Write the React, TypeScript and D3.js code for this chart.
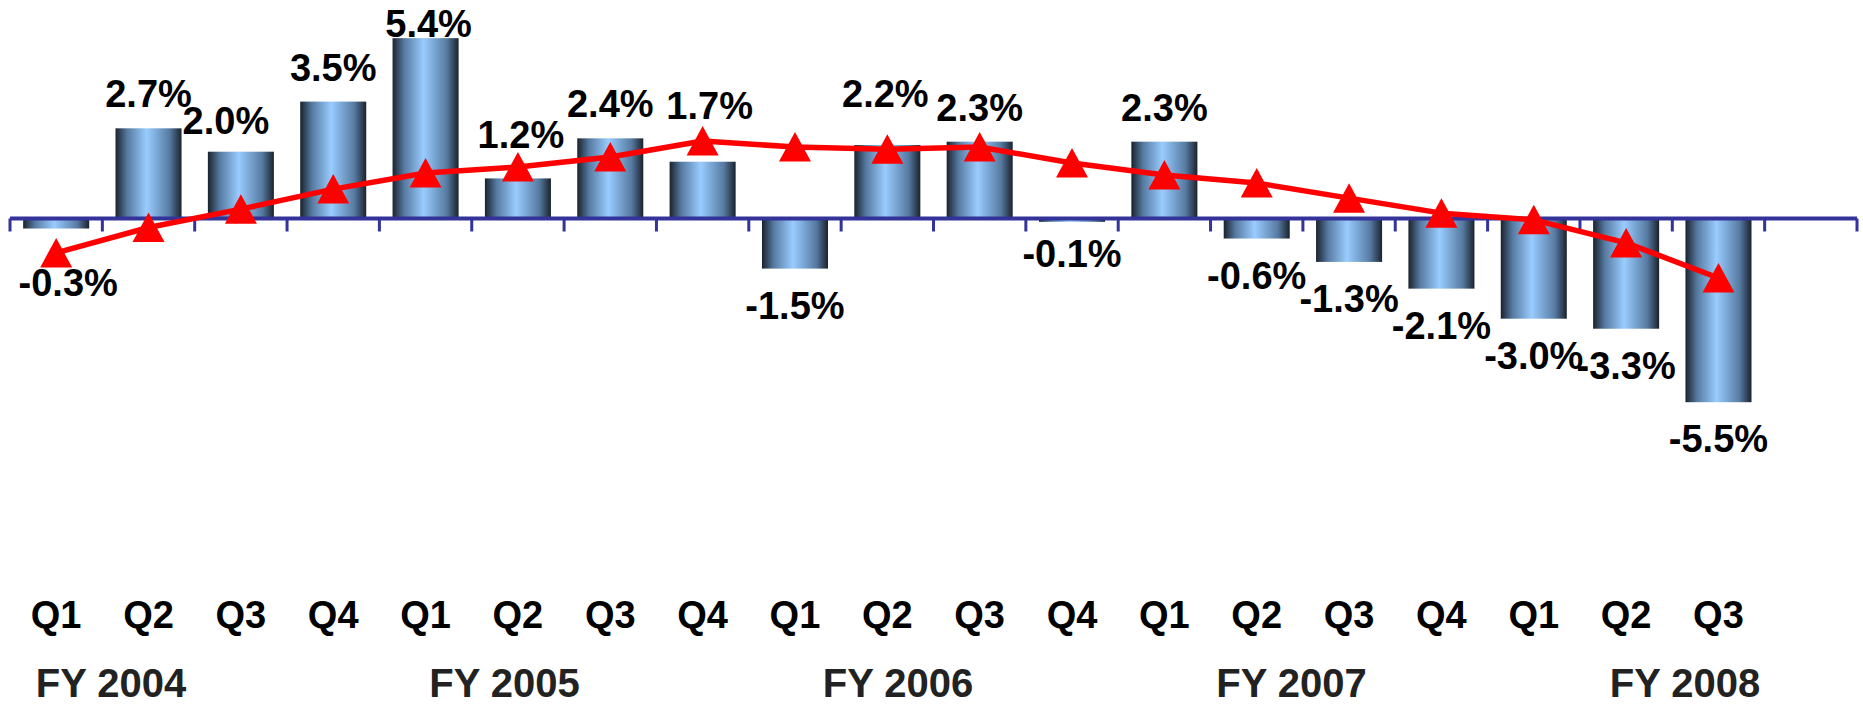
import React from 'react';
import * as d3 from 'd3';

// quarterly figures, FY2004 Q1 .. FY2008 Q3
const quarters = ['Q1', 'Q2', 'Q3', 'Q4', 'Q1', 'Q2', 'Q3', 'Q4', 'Q1', 'Q2', 'Q3', 'Q4', 'Q1', 'Q2', 'Q3', 'Q4', 'Q1', 'Q2', 'Q3'];
const barValues = [-0.3, 2.7, 2.0, 3.5, 5.4, 1.2, 2.4, 1.7, -1.5, 2.2, 2.3, -0.1, 2.3, -0.6, -1.3, -2.1, -3.0, -3.3, -5.5];
const lineValues = [-1.03, -0.27, 0.28, 0.88, 1.36, 1.54, 1.84, 2.32, 2.14, 2.07, 2.14, 1.66, 1.3, 1.06, 0.61, 0.16, -0.04, -0.73, -1.78];
const fiscalYears = ['FY 2004', 'FY 2005', 'FY 2006', 'FY 2007', 'FY 2008'];

// hand placed labels in the original, nudged away from the default spot
const labelNudge: Record<number, [number, number]> = {
  0: [12, 17.5],
  2: [-15, 3],
  4: [3, 19.5],
  5: [3, -9],
  7: [7, -22],
  9: [-2, -17],
  11: [0, -5],
};

const W = 1863;
const H = 706;
const FONT = '"Liberation Sans", Arial, sans-serif';

const App = () => {
  // one empty slot after the last quarter
  const x = d3.scaleBand<number>()
    .domain(d3.range(quarters.length + 1))
    .range([10, 1857])
    .paddingInner(0.285)
    .paddingOuter(0.1425);

  const y = d3.scaleLinear()
    .domain([-6, 6])
    .range([218.5 + 6 * 33.4, 218.5 - 6 * 33.4]);

  const step = x.step();
  const bw = x.bandwidth();
  const cx = (i: number) => (x(i) as number) + bw / 2;

  const line = d3.line<number>()
    .x((d, i) => cx(i))
    .y(d => y(d));

  const tri = d3.line().curve(d3.curveLinearClosed)([[0, -15], [-16, 14.5], [16, 14.5]]) as string;

  const fyX = d3.scaleLinear().domain([0, fiscalYears.length - 1]).range([111, 1685]);

  const ticks = d3.range(quarters.length + 2).map(i => 10 + i * step);

  return (
    <svg width={W} height={H} style={{ position: 'absolute', left: 0, top: 0, background: '#fff' }}>
      <defs>
        <linearGradient id="barGrad" x1="0" x2="1" y1="0" y2="0">
          <stop offset="0" stopColor="#1a222d" />
          <stop offset="0.18" stopColor="#577ba2" />
          <stop offset="0.47" stopColor="#99ccff" />
          <stop offset="0.82" stopColor="#577ba2" />
          <stop offset="1" stopColor="#1a222d" />
        </linearGradient>
      </defs>

      {/* bars */}
      {barValues.map((v, i) => (
        <rect
          key={'b' + i}
          x={x(i)}
          y={Math.min(y(v), y(0))}
          width={bw}
          height={Math.abs(y(v) - y(0))}
          fill="url(#barGrad)"
        />
      ))}

      {/* category axis */}
      <line x1={10} x2={1857} y1={y(0)} y2={y(0)} stroke="#333399" strokeWidth={4} />
      {ticks.filter(t => t <= 1858).map((t, i) => (
        <line key={'t' + i} x1={t} x2={t} y1={y(0)} y2={y(0) + 13} stroke="#333399" strokeWidth={3} />
      ))}

      {/* trend line */}
      <path d={line(lineValues) as string} fill="none" stroke="#ff0000" strokeWidth={5.5} strokeLinejoin="round" />
      {lineValues.map((v, i) => (
        <path key={'m' + i} d={tri} transform={`translate(${cx(i)},${y(v)})`} fill="#ff0000" />
      ))}

      {/* value labels */}
      {barValues.map((v, i) => {
        const [dx, dy] = labelNudge[i] || [0, 0];
        const base = v >= 0 ? y(v) - 21 : y(v) + 50;
        return (
          <text
            key={'l' + i}
            x={cx(i) + dx}
            y={base + dy}
            textAnchor="middle"
            fontFamily={FONT}
            fontWeight="bold"
            fontSize={38}
            fill="#000"
          >
            {v.toFixed(1) + '%'}
          </text>
        );
      })}

      {/* quarter labels */}
      {quarters.map((q, i) => (
        <text
          key={'q' + i}
          x={cx(i)}
          y={628}
          textAnchor="middle"
          fontFamily={FONT}
          fontWeight="bold"
          fontSize={38}
          fill="#000"
        >
          {q}
        </text>
      ))}

      {/* fiscal year labels */}
      {fiscalYears.map((f, i) => (
        <text
          key={'f' + i}
          x={fyX(i)}
          y={697}
          textAnchor="middle"
          fontFamily={FONT}
          fontWeight="bold"
          fontSize={40}
          fill="#222"
        >
          {f}
        </text>
      ))}
    </svg>
  );
};

export default App;
